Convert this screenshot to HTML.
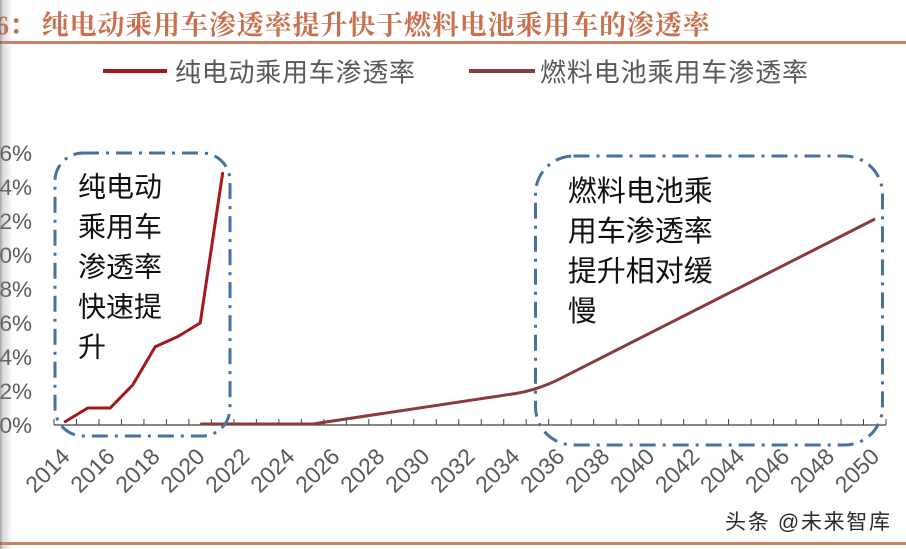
<!DOCTYPE html>
<html>
<head>
<meta charset="utf-8">
<style>
  html, body { margin:0; padding:0; background:#fff; }
  body { width:906px; height:549px; overflow:hidden; position:relative; }
  svg { position:absolute; left:0; top:0; }
  .shadow { position:absolute; left:0; top:0; width:14px; height:549px;
    background:linear-gradient(to right, rgba(90,90,90,0.55) 0px, rgba(150,150,150,0.35) 3px, rgba(255,255,255,0) 13px); }
</style>
</head>
<body>
<svg width="906" height="549" viewBox="0 0 906 549" xmlns="http://www.w3.org/2000/svg">
  <!-- Title -->
  <g font-family="'Liberation Serif','Noto Serif CJK SC',serif" font-weight="bold" fill="#C8714F" font-size="27">
    <text x="9" y="34.5" text-anchor="end">6</text>
    <text x="9" y="34.5" font-family="'Noto Serif CJK SC',serif">：</text>
    <text x="41.7" y="34.5" font-family="'Noto Serif CJK SC',serif" textLength="668" lengthAdjust="spacing">纯电动乘用车渗透率提升快于燃料电池乘用车的渗透率</text>
  </g>
  <rect x="0" y="41" width="906" height="3" fill="#CF7E63"/>
  <rect x="0" y="542" width="906" height="3" fill="#CF7E63"/>

  <!-- Legend -->
  <line x1="103" y1="71" x2="167" y2="71" stroke="#A3171D" stroke-width="4"/>
  <text x="175" y="81.5" font-family="'Liberation Sans','Noto Sans CJK SC',sans-serif" font-size="26" fill="#595959" textLength="240" lengthAdjust="spacing">纯电动乘用车渗透率</text>
  <line x1="469" y1="71" x2="535" y2="71" stroke="#8A3B3B" stroke-width="4"/>
  <text x="540" y="81.5" font-family="'Liberation Sans','Noto Sans CJK SC',sans-serif" font-size="26" fill="#595959" textLength="268" lengthAdjust="spacing">燃料电池乘用车渗透率</text>

  <!-- Y labels -->
  <g font-family="'Liberation Sans',sans-serif" font-size="22.5" fill="#595959" text-anchor="end">
    <text x="32" y="433">0%</text>
    <text x="32" y="399">2%</text>
    <text x="32" y="365">4%</text>
    <text x="32" y="331">6%</text>
    <text x="32" y="297">8%</text>
    <text x="32" y="263">10%</text>
    <text x="32" y="229">12%</text>
    <text x="32" y="195">14%</text>
    <text x="32" y="161">16%</text>
  </g>

  <!-- X axis -->
  <line x1="54" y1="425" x2="886" y2="425" stroke="#404040" stroke-width="1.2"/>
  <g stroke="#404040" stroke-width="1">
    <path d="M54,419V425 M76.49,419V425 M98.97,419V425 M121.46,419V425 M143.94,419V425 M166.43,419V425 M188.92,419V425 M211.4,419V425 M233.89,419V425 M256.37,419V425 M278.86,419V425 M301.35,419V425 M323.83,419V425 M346.32,419V425 M368.8,419V425 M391.29,419V425 M413.78,419V425 M436.26,419V425 M458.75,419V425 M481.23,419V425 M503.72,419V425 M526.21,419V425 M548.69,419V425 M571.18,419V425 M593.66,419V425 M616.15,419V425 M638.64,419V425 M661.12,419V425 M683.61,419V425 M706.09,419V425 M728.58,419V425 M751.07,419V425 M773.55,419V425 M796.04,419V425 M818.52,419V425 M841.01,419V425 M863.5,419V425 M886,419V425"/>
  </g>

  <!-- X labels -->
  <g font-family="'Liberation Sans',sans-serif" font-size="23" fill="#595959" text-anchor="end">
    <text transform="translate(71.2,458) rotate(-45)">2014</text>
    <text transform="translate(116.2,458) rotate(-45)">2016</text>
    <text transform="translate(161.2,458) rotate(-45)">2018</text>
    <text transform="translate(206.2,458) rotate(-45)">2020</text>
    <text transform="translate(251.1,458) rotate(-45)">2022</text>
    <text transform="translate(296.1,458) rotate(-45)">2024</text>
    <text transform="translate(341.1,458) rotate(-45)">2026</text>
    <text transform="translate(386.0,458) rotate(-45)">2028</text>
    <text transform="translate(431.0,458) rotate(-45)">2030</text>
    <text transform="translate(476.0,458) rotate(-45)">2032</text>
    <text transform="translate(521.0,458) rotate(-45)">2034</text>
    <text transform="translate(565.9,458) rotate(-45)">2036</text>
    <text transform="translate(610.9,458) rotate(-45)">2038</text>
    <text transform="translate(655.9,458) rotate(-45)">2040</text>
    <text transform="translate(700.8,458) rotate(-45)">2042</text>
    <text transform="translate(745.8,458) rotate(-45)">2044</text>
    <text transform="translate(790.8,458) rotate(-45)">2046</text>
    <text transform="translate(835.7,458) rotate(-45)">2048</text>
    <text transform="translate(880.7,458) rotate(-45)">2050</text>
  </g>

  <!-- Series -->
  <polyline fill="none" stroke="#A3171D" stroke-width="3" stroke-linejoin="round" stroke-linecap="round"
    points="65.24,421.6 87.73,408 110.2,408 132.7,385 155.2,346.8 177.7,336.6 200.2,323 222.6,173.4"/>
  <path fill="none" stroke="#8A3B3B" stroke-width="3" stroke-linejoin="round"
    d="M200.2,424 L312.6,424 L514.96,393.6 Q537.45,390.15 559.93,378.8 L875,219"/>

  <!-- Dash-dot boxes -->
  <g fill="none" stroke="#45729E" stroke-width="3" stroke-dasharray="16 7 3 7">
    <rect x="55" y="153" width="175" height="283" rx="28" ry="28"/>
    <rect x="535.5" y="156" width="347" height="289" rx="38" ry="38"/>
  </g>

  <!-- Annotations -->
  <g font-family="'Liberation Sans','Noto Sans CJK SC',sans-serif" font-size="28" fill="#111">
    <text x="78" y="196.6">纯电动</text>
    <text x="78" y="236.6">乘用车</text>
    <text x="78" y="276.6">渗透率</text>
    <text x="78" y="316.6">快速提</text>
    <text x="78" y="356.6">升</text>
  </g>
  <g font-family="'Liberation Sans','Noto Sans CJK SC',sans-serif" font-size="29" fill="#111">
    <text x="567.7" y="201">燃料电池乘</text>
    <text x="567.7" y="241">用车渗透率</text>
    <text x="567.7" y="281">提升相对缓</text>
    <text x="567.7" y="321">慢</text>
  </g>

  <!-- Watermark -->
  <text x="725" y="529" font-family="'Liberation Sans','Noto Sans CJK SC',sans-serif" font-size="21" fill="#2a2a2a" stroke="#ffffff" stroke-width="0.6" paint-order="stroke" textLength="165" lengthAdjust="spacing">头条 @未来智库</text>
</svg>
<div class="shadow"></div>
</body>
</html>
